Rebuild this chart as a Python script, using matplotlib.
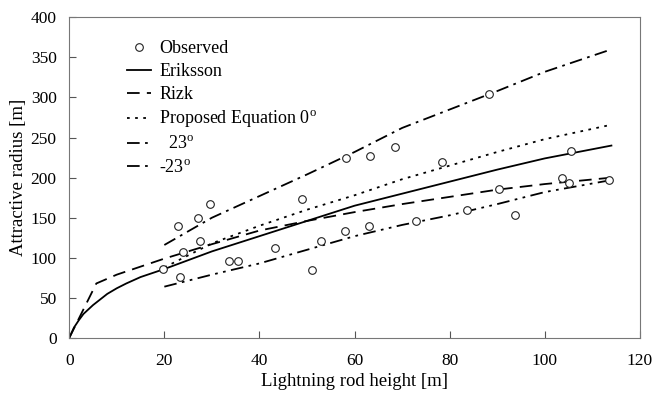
import numpy as np
import matplotlib.pyplot as plt

plt.rcParams['font.family'] = ['Liberation Serif', 'DejaVu Serif']
plt.rcParams['mathtext.fontset'] = 'custom'
plt.rcParams['mathtext.rm'] = 'Liberation Serif'

# observed data (height [m], radius [m])
obs_h = [19.8, 23.2, 22.9, 23.9, 27.1, 27.5, 29.7, 33.6, 35.5, 43.3, 48.9, 51.1,
         53.0, 58.0, 58.2, 63.0, 63.2, 68.5, 73.0, 78.3, 83.6, 88.2, 90.3, 93.7,
         103.7, 105.0, 105.6, 113.4]
obs_r = [86, 76, 140, 107, 150, 121, 167, 96, 96, 112, 173, 85,
         121, 133, 224, 140, 227, 238, 146, 219, 160, 304, 186, 153,
         199, 193, 233, 197]

# Eriksson
eri_h = [0, 1, 2, 3, 5, 8, 10, 12, 15, 20, 30, 40, 50, 60, 70, 80, 90, 100, 114]
eri_r = [0, 13, 22, 30, 41, 55, 62, 68, 76, 86, 108, 127, 146, 165, 180, 195, 210, 224, 240]

# Rizk
rizk_h = [0, 5.7, 10, 20, 30, 40, 50, 60, 70, 80, 90, 100, 114]
rizk_r = [0, 68, 79, 99, 117, 134, 146, 157, 167, 176, 185, 192, 200]

# Proposed equation 0 deg
p0_h = [20, 30, 40, 50, 60, 70, 80, 90, 100, 114]
p0_r = [88, 118, 140, 160, 178, 198, 215, 232, 248, 266]

# Proposed equation 23 deg
p23_h = [20, 30, 40, 50, 60, 70, 80, 90, 100, 114]
p23_r = [116, 150, 177, 204, 232, 262, 285, 308, 332, 360]

# Proposed equation -23 deg
pm23_h = [20, 30, 40, 50, 60, 70, 80, 90, 100, 114]
pm23_r = [64, 79, 93, 110, 127, 141, 153, 167, 182, 197]

fig = plt.figure(figsize=(6.53, 3.93), dpi=100)
ax = fig.add_axes([0.106, 0.14, 0.874, 0.816])

ax.plot(obs_h, obs_r, 'o', mfc='white', mec='#222222', ms=5.5, mew=0.8,
        label='Observed', zorder=3)
ax.plot(eri_h, eri_r, '-', color='black', lw=1.3, label='Eriksson')
ax.plot(rizk_h, rizk_r, color='black', lw=1.3, dashes=(7, 4), label='Rizk')
ax.plot(p0_h, p0_r, color='black', lw=1.3, dashes=(1.5, 3),
        label='Proposed Equation 0$^{\\rm o}$')
ax.plot(p23_h, p23_r, color='black', lw=1.3, dashes=(7, 3, 1.5, 3),
        label='  23$^{\\rm o}$')
ax.plot(pm23_h, pm23_r, color='black', lw=1.3, dashes=(7, 3, 1.5, 3, 1.5, 3),
        label='-23$^{\\rm o}$')

ax.set_xlim(0, 120)
ax.set_ylim(0, 400)
ax.set_xticks(np.arange(0, 121, 20))
ax.set_yticks(np.arange(0, 401, 50))
ax.tick_params(direction='in', length=5, labelsize=12.5, color='#555555')
ax.tick_params(axis='x', pad=11)
ax.tick_params(axis='y', pad=9)
for s in ax.spines.values():
    s.set_color('#777777')

ax.set_xlabel('Lightning rod height [m]', fontsize=13.5, labelpad=3)
ax.set_ylabel('Attractive radius [m]', fontsize=13.5, labelpad=3)

ax.legend(loc='upper left', bbox_to_anchor=(0.072, 0.98), frameon=False,
          fontsize=13, handlelength=1.35, handletextpad=0.45, labelspacing=0.33)

fig.savefig('out.png', dpi=100)
